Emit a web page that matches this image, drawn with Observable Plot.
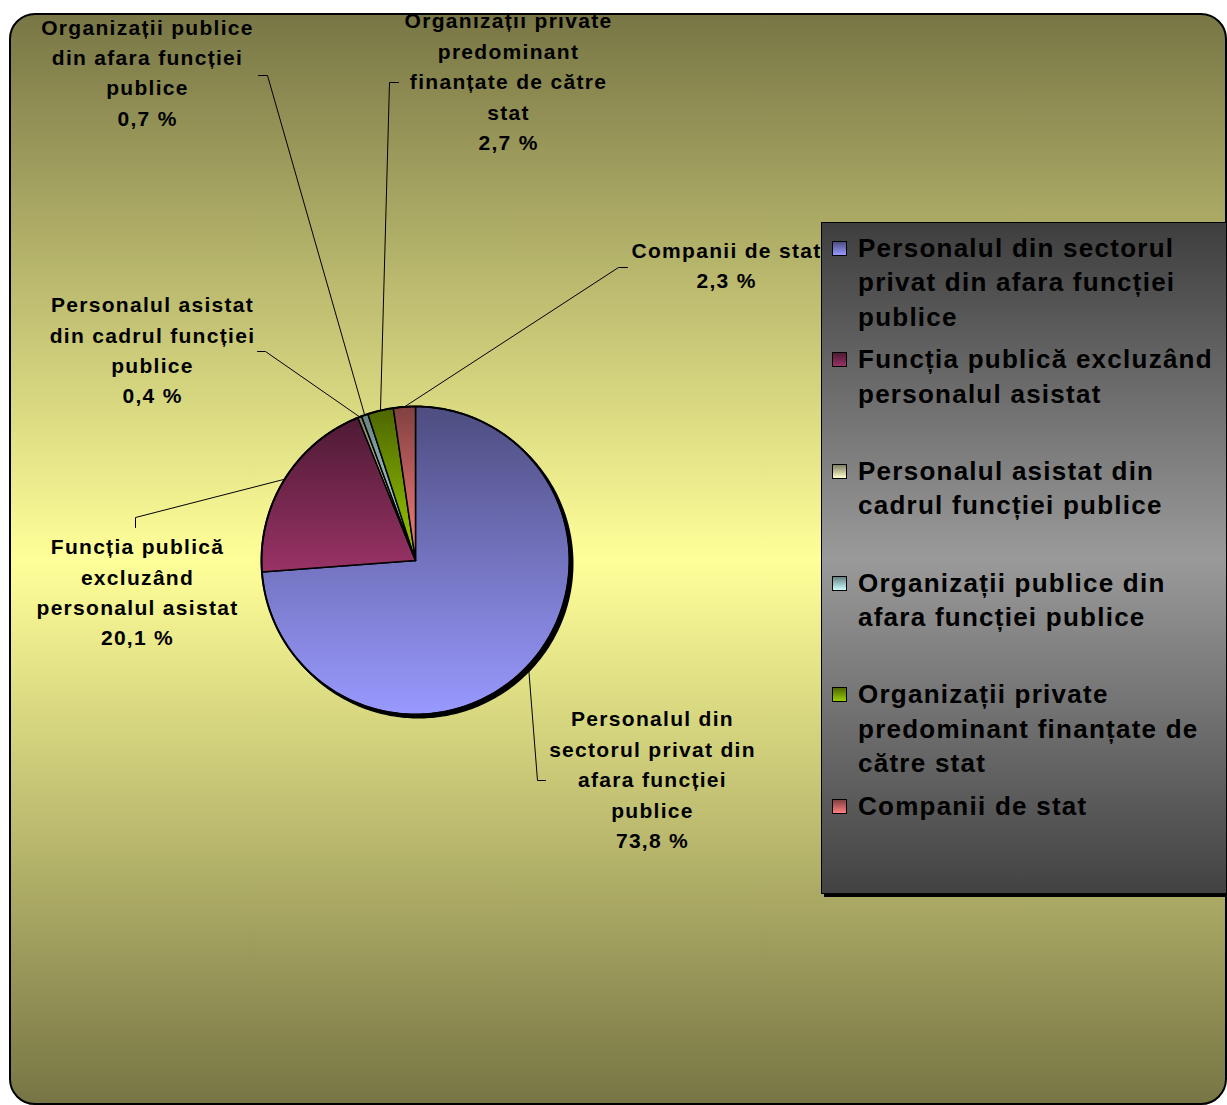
<!DOCTYPE html>
<html>
<head>
<meta charset="utf-8">
<script src="https://cdn.jsdelivr.net/npm/d3@7"></script>
<script src="https://cdn.jsdelivr.net/npm/@observablehq/plot@0.6"></script>
<style>
  html, body { margin: 0; padding: 0; background: #fff; overflow: hidden; }
  #wrap { position: relative; width: 1227px; height: 1105px; overflow: hidden; }
  #chart { position: absolute; left: 0; top: 0; }
  #chart svg text { letter-spacing: 1.3px; }
  #legend {
    position: absolute; left: 821px; top: 222px; width: 404px; height: 670px;
    border: 1px solid #000; box-shadow: 3px 3px 0 #000;
    background: linear-gradient(#3e3e3e, #9a9a9a 50%, #424242);
    font: bold 26px "Liberation Sans", Arial, sans-serif; letter-spacing: 1.25px; color: #000;
  }
  .item { position: absolute; left: 36px; width: 368px; line-height: 34.5px; }
  .sw { position: absolute; left: -26px; top: 10px; width: 13px; height: 13px; border: 1px solid #000; }
</style>
</head>
<body>
<div id="wrap">
  <div id="chart"></div>
  <div id="legend"></div>
</div>
<script>
// ---------- data ----------
const categories = [
  "Personalul din sectorul privat din afara funcției publice",
  "Funcția publică excluzând personalul asistat",
  "Personalul asistat din cadrul funcției publice",
  "Organizații publice din afara funcției publice",
  "Organizații private predominant finanțate de către stat",
  "Companii de stat"
];
const values = [73.8, 20.1, 0.4, 0.7, 2.7, 2.3];
const colors = ["#9999ff", "#993366", "#ffffcc", "#ccffff", "#99cc00", "#ff8080"];
const wrappedLabels = [
  "Personalul din\nsectorul privat din\nafara funcției\npublice",
  "Funcția publică\nexcluzând\npersonalul asistat",
  "Personalul asistat\ndin cadrul funcției\npublice",
  "Organizații publice\ndin afara funcției\npublice",
  "Organizații private\npredominant\nfinanțate de către\nstat",
  "Companii de stat"
];

// ---------- layout (pixels) ----------
const cx = 415, cy = 560, R = 154;
const labelLayout = [
  {x: 652, y: 777,  elbow: [537, 780], end: [545, 780]},
  {x: 137, y: 589.5, elbow: [135, 517], end: [135, 527]},
  {x: 152, y: 347.5, elbow: [265, 351], end: [257, 351]},
  {x: 147, y: 70,   elbow: [267, 75],  end: [258, 75]},
  {x: 508, y: 79,   elbow: [389, 82],  end: [398, 82]},
  {x: 726, y: 263,  elbow: [618, 267], end: [627, 267]}
];

const darken = c => { const r = d3.rgb(c); return d3.rgb(r.r * 0.5, r.g * 0.5, r.b * 0.5).formatHex(); };
const fmt = v => d3.format(".1f")(v).replace(".", ",") + " %";

const arcs = d3.pie().sort(null).value(d => d)(values);
const pt = (t, r = R) => ({x: cx + r * Math.sin(t), y: cy - r * Math.cos(t)});

const slices = arcs.map((a, i) => {
  const n = Math.max(2, Math.ceil((a.endAngle - a.startAngle) / 0.01));
  const pts = [{x: cx, y: cy}];
  for (let k = 0; k <= n; k++) pts.push(pt(a.startAngle + (a.endAngle - a.startAngle) * k / n));
  return pts;
});
const circle = d3.range(0, 361).map(d => pt(d * Math.PI / 180));

const leaders = arcs.flatMap((a, i) => {
  const m = pt((a.startAngle + a.endAngle) / 2);
  const L = labelLayout[i];
  return [
    {key: i, x: m.x, y: m.y},
    {key: i, x: L.elbow[0], y: L.elbow[1]},
    {key: i, x: L.end[0], y: L.end[1]}
  ];
});
const labels = values.map((v, i) => ({x: labelLayout[i].x, y: labelLayout[i].y, text: wrappedLabels[i] + "\n" + fmt(v)}));

// background frame + gradient defs
function frameMark() {
  const g = d3.create("svg:g");
  const defs = g.append("defs");
  const bg = defs.append("linearGradient").attr("id", "bgGrad").attr("x1", 0).attr("y1", 0).attr("x2", 0).attr("y2", 1);
  bg.append("stop").attr("offset", "0").attr("stop-color", "#787645");
  bg.append("stop").attr("offset", "0.5").attr("stop-color", "#ffff99");
  bg.append("stop").attr("offset", "1").attr("stop-color", "#777544");
  colors.forEach((c, i) => {
    const lg = defs.append("linearGradient").attr("id", "sg" + i).attr("x1", 0).attr("y1", 0).attr("x2", 0).attr("y2", 1);
    lg.append("stop").attr("offset", "0").attr("stop-color", darken(c));
    lg.append("stop").attr("offset", "1").attr("stop-color", c);
  });
  g.append("rect").attr("x", 10).attr("y", 14).attr("width", 1216).attr("height", 1090)
    .attr("rx", 25).attr("ry", 25).attr("fill", "url(#bgGrad)").attr("stroke", "#000").attr("stroke-width", 2);
  return g.node();
}

const marks = [
  frameMark,
  Plot.line(circle, {x: "x", y: "y", curve: "linear-closed", fill: "#000", stroke: "#000", strokeWidth: 2, dx: 3, dy: 3}),
  ...slices.map((s, i) => Plot.line(s, {x: "x", y: "y", curve: "linear-closed", fill: `url(#sg${i})`, stroke: "#000", strokeWidth: 1.5, strokeLinejoin: "round"})),
  Plot.line(circle, {x: "x", y: "y", curve: "linear-closed", fill: "none", stroke: "#000", strokeWidth: 2}),
  Plot.line(leaders, {x: "x", y: "y", z: "key", stroke: "#000", strokeWidth: 1}),
  Plot.text(labels, {x: "x", y: "y", text: "text", fontSize: 21, fontWeight: "bold", fontFamily: "Liberation Sans, Arial, sans-serif", lineHeight: 1.45, fill: "#000", textAnchor: "middle"})
];

const chart = Plot.plot({
  width: 1227, height: 1105, margin: 0,
  x: {domain: [0, 1227], range: [0, 1227], axis: null},
  y: {domain: [0, 1105], range: [0, 1105], axis: null},
  style: {background: "transparent", overflow: "visible"},
  marks
});
document.getElementById("chart").appendChild(chart);

// legend
const legend = d3.select("#legend");
categories.forEach((c, i) => {
  const it = legend.append("div").attr("class", "item").style("top", (7.75 + i * 111.6) + "px");
  it.append("div").attr("class", "sw").style("background", `linear-gradient(${darken(colors[i])}, ${colors[i]})`);
  it.append("span").text(c);
});
</script>
</body>
</html>
